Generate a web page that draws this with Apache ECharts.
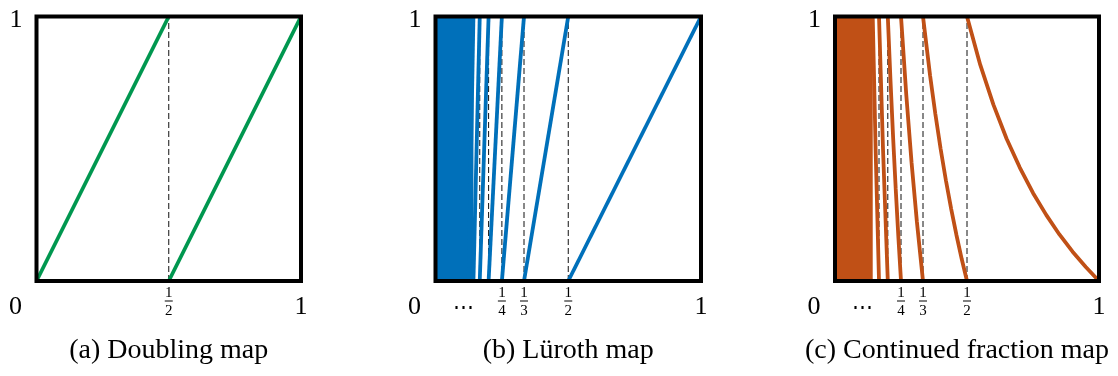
<!DOCTYPE html>
<html>
<head>
<meta charset="utf-8">
<script src="https://cdn.jsdelivr.net/npm/echarts@6/dist/echarts.min.js"></script>
<style>
  html, body { margin: 0; padding: 0; background: #fff; }
  #chart { width: 1118px; height: 376px; }
</style>
</head>
<body>
<div id="chart"></div>
<script>
// panel (a): doubling map, two branches
const doublingBranches = [
  [[0, 0], [0.5, 1]],
  [[0.5, 0], [1, 1]]
]
const doublingDashes = [1 / 2]

// panel (b): Lüroth map, branch n runs from 1/(n+1) (y=0) to 1/n (y=1)
const lurothBreaks = [1, 1 / 2, 1 / 3, 1 / 4, 1 / 5, 1 / 6, 1 / 7, 1 / 8]
const lurothFillEnd = 1 / 7

// panel (c): continued fraction (Gauss) map, branches
const gaussBranches = [
  [[0.5, 1], [0.55, 0.818], [0.6, 0.667], [0.65, 0.538], [0.7, 0.429], [0.75, 0.333],
   [0.8, 0.25], [0.85, 0.176], [0.9, 0.111], [0.95, 0.053], [1, 0]],
  [[0.3333, 1], [0.36, 0.778], [0.38, 0.632], [0.4, 0.5], [0.42, 0.381], [0.44, 0.273],
   [0.46, 0.174], [0.48, 0.083], [0.5, 0]],
  [[0.25, 1], [0.27, 0.704], [0.29, 0.448], [0.31, 0.226], [0.3333, 0]],
  [[0.2, 1], [0.21, 0.762], [0.22, 0.545], [0.23, 0.348], [0.24, 0.167], [0.25, 0]],
  [[0.1667, 1], [0.1818, 0.5], [0.2, 0]],
  [[0.1429, 1], [0.1538, 0.5], [0.1667, 0]]
]
const gaussFillEnd = 1 / 7

const fractionDashes = [1 / 2, 1 / 3, 1 / 4, 1 / 5, 1 / 6]

// tick labels
const ticksA = [0, 1 / 2, 1]
const tickTextsA = ['0', '1/2', '1']
const ticksBC = [0, 0.104, 1 / 4, 1 / 3, 1 / 2, 1]
const tickTextsBC = ['0', 'dots', '1/4', '1/3', '1/2', '1']

const captions = ['(a) Doubling map', '(b) Lüroth map', '(c) Continued fraction map']
const colors = ['#00974F', '#0070BA', '#C05016']

const FONT = 'Liberation Serif'

const grids = [
  { left: 36.5, top: 16.5, width: 264.5, height: 264.5 },
  { left: 435.5, top: 16.5, width: 265.5, height: 264.5 },
  { left: 835, top: 16.5, width: 264, height: 264.5 }
].map(g => Object.assign(g, {
  show: true, z: 10, borderColor: '#000', borderWidth: 4, backgroundColor: 'transparent'
}))

function labelFormatter(ticks, texts) {
  return (value) => {
    let i = 0
    ticks.forEach((t, k) => { if (Math.abs(t - value) < Math.abs(ticks[i] - value)) i = k })
    const t = texts[i]
    if (t === '0') return '{zero|0}'
    if (t === '1') return '{big|1}'
    if (t === 'dots') return '{dots|⋯}'
    const parts = t.split('/')
    return `{num|${parts[0]}}\n{bar| }\n{den|${parts[1]}}`
  }
}

const rich = {
  big: { fontFamily: FONT, fontSize: 26, color: '#000', padding: [6, 0, 0, 0] },
  zero: { fontFamily: FONT, fontSize: 26, color: '#000', padding: [6, 42, 0, 0] },
  top: { fontFamily: FONT, fontSize: 26, color: '#000', padding: [7, 0, 0, 0] },
  num: { fontFamily: FONT, fontSize: 15, color: '#000', lineHeight: 11 },
  bar: { width: 8, height: 1, backgroundColor: '#000', fontSize: 1, lineHeight: 4 },
  den: { fontFamily: FONT, fontSize: 15, color: '#000', lineHeight: 17 },
  dots: { fontFamily: 'DejaVu Serif', fontSize: 21, color: '#000', padding: [10, 0, 0, 0] }
}

function xAxis(i, ticks, texts) {
  return {
    gridIndex: i, type: 'value', min: 0, max: 1,
    axisLine: { show: false }, axisTick: { show: false }, splitLine: { show: false },
    axisLabel: {
      customValues: ticks, margin: 7,
      formatter: labelFormatter(ticks, texts), rich: rich
    },
    name: captions[i], nameLocation: 'middle', nameGap: 56,
    nameTextStyle: {
      fontFamily: FONT, fontSize: 28, color: '#000',
      padding: i === 2 ? [0, 20, 0, 0] : 0
    }
  }
}

function yAxis(i) {
  return {
    gridIndex: i, type: 'value', min: 0, max: 1,
    axisLine: { show: false }, axisTick: { show: false }, splitLine: { show: false },
    axisLabel: {
      customValues: [1], margin: 14,
      formatter: () => '{top|1}', rich: rich
    }
  }
}

function curve(i, data, color) {
  return {
    type: 'line', xAxisIndex: i, yAxisIndex: i, data: data,
    symbol: 'none', silent: true, z: 3,
    lineStyle: { color: color, width: 3.8 }
  }
}

function dash(i, x) {
  return {
    type: 'line', xAxisIndex: i, yAxisIndex: i, data: [[x, 0], [x, 1]],
    symbol: 'none', silent: true, z: 2,
    lineStyle: { color: '#111', width: 1, type: [6, 3] }
  }
}

function fill(i, xEnd, color) {
  return {
    type: 'line', xAxisIndex: i, yAxisIndex: i, data: [[0, 1], [xEnd, 1]],
    symbol: 'none', silent: true, z: 2,
    lineStyle: { width: 0 },
    areaStyle: { color: color, opacity: 1 }
  }
}

const series = []
doublingDashes.forEach(x => series.push(dash(0, x)))
doublingBranches.forEach(b => series.push(curve(0, b, colors[0])))

fractionDashes.forEach(x => series.push(dash(1, x)))
series.push(fill(1, lurothFillEnd, colors[1]))
for (let n = 1; n < lurothBreaks.length; n++) {
  series.push(curve(1, [[lurothBreaks[n], 0], [lurothBreaks[n - 1], 1]], colors[1]))
}

fractionDashes.forEach(x => series.push(dash(2, x)))
series.push(fill(2, gaussFillEnd, colors[2]))
gaussBranches.forEach(b => series.push(curve(2, b, colors[2])))

const chart = echarts.init(document.getElementById('chart'))
chart.setOption({
  animation: false,
  backgroundColor: '#fff',
  grid: grids,
  xAxis: [xAxis(0, ticksA, tickTextsA), xAxis(1, ticksBC, tickTextsBC), xAxis(2, ticksBC, tickTextsBC)],
  yAxis: [yAxis(0), yAxis(1), yAxis(2)],
  series: series
})
</script>
</body>
</html>
